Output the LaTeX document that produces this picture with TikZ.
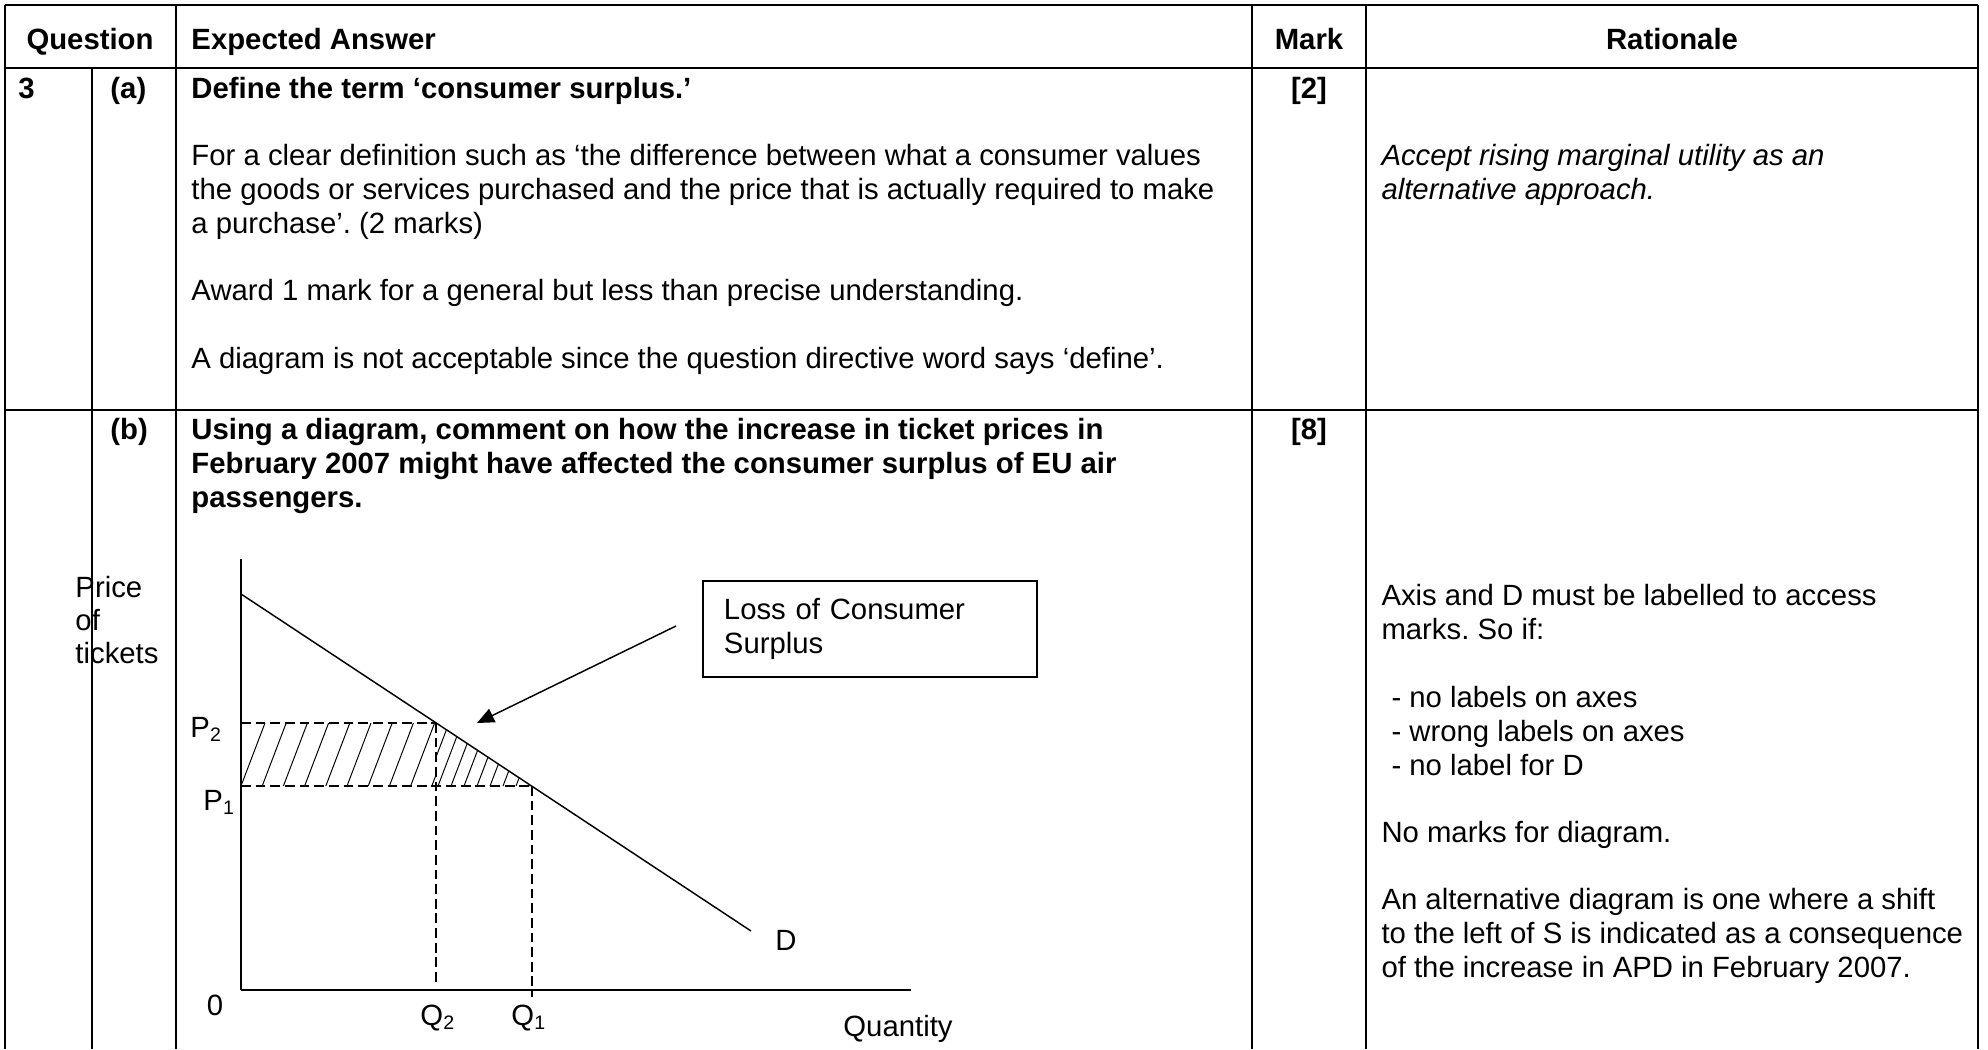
\documentclass[tikz,border=0pt]{standalone}
\usepackage{fontspec}
\setmainfont{Liberation Sans}
\usetikzlibrary{arrows.meta}
\newcommand\bodyfont{\fontsize{12pt}{13.8pt}\selectfont}
\frenchspacing

\begin{document}
\begin{tikzpicture}[x=0.4095pt, y=-0.4095pt,
  every node/.style={inner sep=0pt, font=\bodyfont},
  txt/.style={anchor=base west},
  mid/.style={anchor=base},
  head/.style={font=\bodyfont\bfseries},
  rule/.style={line width=0.8pt},
  guide/.style={line width=0.5pt, dash pattern=on 4pt off 2pt},
  hatch/.style={line width=0.4pt}]
\useasboundingbox (0,0) rectangle (1988,1049);
% table
\draw[rule] (5,5) -- (1978,5);
\draw[rule] (5,68) -- (1978,68);
\draw[rule] (5,410) -- (1978,410);
\draw[rule] (5,5) -- (5,1049);
\draw[rule] (92,68) -- (92,1049);
\draw[rule] (176,5) -- (176,1049);
\draw[rule] (1252,5) -- (1252,1049);
\draw[rule] (1366,5) -- (1366,1049);
\draw[rule] (1978,5) -- (1978,1049);
\node[mid, head] (hq) at (90,50) {Question};
\node[txt, head] (hexp) at (191,50) {Expected Answer};
\node[mid, head] (hmark) at (1309,50) {Mark};
\node[mid, head] (hrat) at (1672,50) {Rationale};
% part (a)
\node[txt, head] (qnum) at (18,98) {3};
\node[txt, head] (qa) at (110,98) {(a)};
\node[txt, head] (qatitle) at (191,98) {Define the term ‘consumer surplus.’};
\node[mid, head] (marka) at (1309,98) {[2]};
\node[txt] (a1) at (191,165) {For a clear definition such as ‘the difference between what a consumer values};
\node[txt] (a2) at (191,199) {the goods or services purchased and the price that is actually required to make};
\node[txt] (a3) at (191,233) {a purchase’. (2 marks)};
\node[txt] (a4) at (191,300) {Award 1 mark for a general but less than precise understanding.};
\node[txt] (a5) at (191,368) {A diagram is not acceptable since the question directive word says ‘define’.};
\node[txt, font=\bodyfont\itshape] (ra1) at (1381,165) {Accept rising marginal utility as an};
\node[txt, font=\bodyfont\itshape] (ra2) at (1381,199) {alternative approach.};
% part (b)
\node[txt, head] (qb) at (110,439) {(b)};
\node[txt, head] (qb1) at (191,439) {Using a diagram, comment on how the increase in ticket prices in};
\node[txt, head] (qb2) at (191,473) {February 2007 might have affected the consumer surplus of EU air};
\node[txt, head] (qb3) at (191,507) {passengers.};
\node[mid, head] (markb) at (1309,439) {[8]};
\node[txt] (rb1) at (1381,605) {Axis and D must be labelled to access};
\node[txt] (rb2) at (1381,639) {marks. So if:};
\node[txt] (rb3) at (1391,707) {- no labels on axes};
\node[txt] (rb4) at (1391,741) {- wrong labels on axes};
\node[txt] (rb5) at (1391,775) {- no label for D};
\node[txt] (rb6) at (1381,842) {No marks for diagram.};
\node[txt] (rb7) at (1381,909) {An alternative diagram is one where a shift};
\node[txt] (rb8) at (1381,943) {to the left of S is indicated as a consequence};
\node[txt] (rb9) at (1381,977) {of the increase in APD in February 2007.};
% diagram
\coordinate (origin) at (241,990);
\coordinate (ytop) at (241,559);
\coordinate (xend) at (911,990);
\coordinate (dtop) at (241,594);
\coordinate (dend) at (751,931);
\coordinate (p2) at (241,723);
\coordinate (p1) at (241,786);
\coordinate (e2) at (436,723);
\coordinate (e1) at (532,786);
\coordinate (q2) at (436,984);
\coordinate (q1) at (532,997);
\begin{scope}
\clip (p2) rectangle (436,786);
\foreach \k in {0,...,9}
  \draw[hatch] (241+\k*21.2,786) -- ++(24,-63);
\end{scope}
\begin{scope}
\clip (e2) -- (e1) -- (436,786) -- cycle;
\foreach \k in {0,...,9}
  \draw[hatch] (412+\k*13,786) -- ++(24,-63);
\end{scope}
\draw[guide] (p2) -- (e2);
\draw[guide] (p1) -- (e1);
\draw[guide] (e2) -- (q2);
\draw[guide] (e1) -- (q1);
\draw[line width=0.6pt] (ytop) -- (origin);
\draw[line width=1.1pt] (origin) -- (xend);
\draw[line width=0.6pt] (dtop) -- (dend);
\node[txt] (ylab1) at (75,597) {Price};
\node[txt] (ylab2) at (75,630) {of};
\node[txt] (ylab3) at (75,663) {tickets};
\node[txt] (lp2) at (190,737) {P\textsubscript{2}};
\node[txt] (lp1) at (203,810) {P\textsubscript{1}};
\node[mid] (lzero) at (215,1015) {0};
\node[txt] (lq2) at (420,1025) {Q\textsubscript{2}};
\node[txt] (lq1) at (511,1025) {Q\textsubscript{1}};
\node[mid] (lqty) at (898,1036) {Quantity};
\node[mid] (ld) at (786,950) {D};
\node[draw, line width=0.8pt, anchor=north west, align=left,
  minimum width={334*0.4095pt}, minimum height={96*0.4095pt},
  text width={292*0.4095pt}, inner xsep={21*0.4095pt}] (lossbox) at (702,580)
  {Loss of Consumer\\Surplus};
\coordinate (lead) at (676,626);
\coordinate (leadtip) at (477,723);
\draw[line width=0.6pt, -{Triangle[length=7pt, width=6pt]}] (lead) -- (leadtip);
\end{tikzpicture}
\end{document}
